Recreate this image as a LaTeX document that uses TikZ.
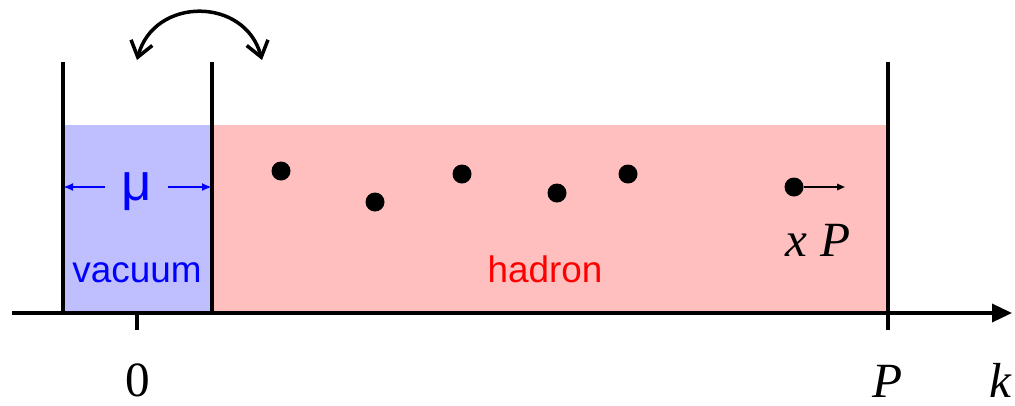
\documentclass[tikz,border=0pt]{standalone}
\usepackage{fontspec}
\setmainfont{Liberation Serif}
\setsansfont{Liberation Sans}
\usetikzlibrary{arrows.meta}
\definecolor{vacBlue}{RGB}{191,191,255}
\definecolor{hadPink}{RGB}{255,191,191}

\begin{document}
\begin{tikzpicture}
[wall/.style={line width=2pt},
vertex/.style={circle,minimum size=3.8mm,inner sep=0pt,fill=black},
vacuumFill/.style={fill=vacBlue},
hadronFill/.style={fill=hadPink},
axisLine/.style={line width=2pt,-{Triangle[length=4mm,width=3.6mm]}},
swapArrow/.style={line width=2pt,{Straight Barb[length=3mm,width=4.4mm]}-{Straight Barb[length=3mm,width=4.4mm]}},
widthArrow/.style={blue,line width=1.2pt,-{Latex[length=2mm,width=1.6mm]}},
momArrow/.style={line width=0.9pt,-{Triangle[length=1.6mm,width=1.3mm]}},
axisLabel/.style={anchor=base,inner sep=0pt,font=\fontsize{28}{30}\selectfont},
regionLabel/.style={anchor=base,inner sep=0pt,font=\sffamily\fontsize{21}{24}\selectfont}]
\useasboundingbox (0,-1.84) rectangle (20.3,6.26);

\coordinate (lwTop) at (1.26,5.02);
\coordinate (lwBot) at (1.26,0);
\coordinate (mwTop) at (4.24,5.02);
\coordinate (mwBot) at (4.24,0);
\coordinate (pwTop) at (17.76,5.02);
\coordinate (pwBot) at (17.76,-0.34);
\coordinate (zeroTop) at (2.74,0);
\coordinate (zeroBot) at (2.74,-0.34);
\coordinate (axStart) at (0.24,0);
\coordinate (axEnd) at (20.24,0);
\coordinate (swapL) at (2.74,5.06);
\coordinate (swapR) at (5.24,5.06);

\fill[vacuumFill] (lwBot) rectangle (4.24,3.76);
\fill[hadronFill] (mwBot) rectangle (17.76,3.76);

\node[vertex] (d1) at (5.62,2.84) {};
\node[vertex] (d2) at (7.50,2.22) {};
\node[vertex] (d3) at (9.24,2.78) {};
\node[vertex] (d4) at (11.14,2.40) {};
\node[vertex] (d5) at (12.56,2.78) {};
\node[vertex] (d6) at (15.88,2.52) {};
\coordinate (d6tip) at (16.90,2.52);

\node[blue,anchor=base,inner sep=0pt,font=\sffamily\fontsize{30}{32}\selectfont] (mu) at (2.74,2.26) {μ};
\coordinate (muL) at (2.10,2.52);
\coordinate (muR) at (3.36,2.52);
\coordinate (muLend) at (1.26,2.52);
\coordinate (muRend) at (4.24,2.52);

\node[regionLabel,blue] (vac) at (2.74,0.62) {vacuum};
\node[regionLabel,red] (had) at (10.90,0.62) {hadron};
\node[axisLabel] (xP) at (16.36,1.14) {\textit{x P}};
\node[axisLabel] (zero) at (2.76,-1.66) {0};
\node[axisLabel] (pLab) at (17.76,-1.68) {\textit{P}};
\node[axisLabel] (kLab) at (20.02,-1.68) {\textit{k}};

\draw[wall] (lwTop) -- (lwBot);
\draw[wall] (mwTop) -- (mwBot);
\draw[wall] (pwTop) -- (pwBot);
\draw[wall] (zeroTop) -- (zeroBot);
\draw[axisLine] (axStart) -- (axEnd);

\draw[swapArrow] (swapL) to[out=75,in=105,looseness=1.35] (swapR);
\draw[widthArrow] (muL) -- (muLend);
\draw[widthArrow] (muR) -- (muRend);
\draw[momArrow] (d6) -- (d6tip);
\end{tikzpicture}
\end{document}
